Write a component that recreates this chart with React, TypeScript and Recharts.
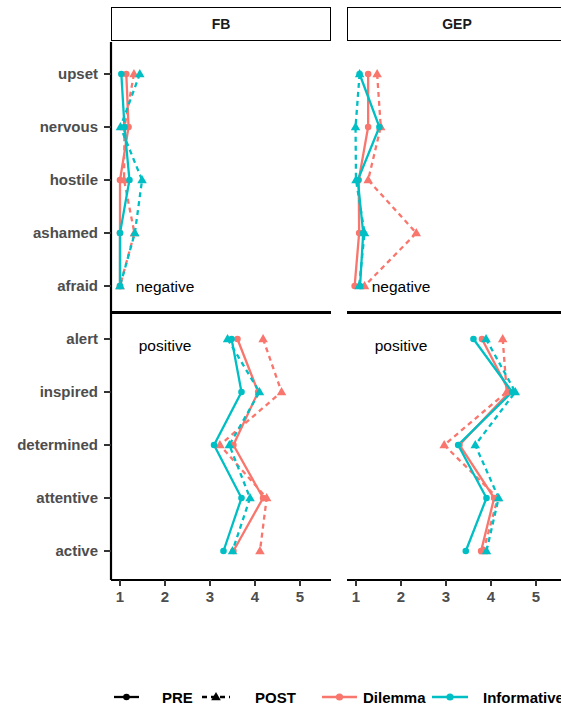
import { LineChart, Line, XAxis, YAxis, ReferenceDot } from 'recharts';

const categories = [
  'upset', 'nervous', 'hostile', 'ashamed', 'afraid',
  'alert', 'inspired', 'determined', 'attentive', 'active',
];
const xTicks = [1, 2, 3, 4, 5];

// FB panel
const fbDilemmaPre = [1.14, 1.19, 1.0, 1.0, 1.0, 3.61, 4.07, 3.52, 4.18, 3.52];
const fbDilemmaPost = [1.31, 1.1, 1.09, 1.32, 1.0, 4.18, 4.59, 3.22, 4.26, 4.11];
const fbInfoPre = [1.03, 1.1, 1.21, 1.0, 1.0, 3.48, 3.7, 3.09, 3.7, 3.3];
const fbInfoPost = [1.44, 1.01, 1.49, 1.33, 1.0, 3.39, 4.1, 3.43, 3.89, 3.5];

// GEP panel
const gepDilemmaPre = [1.27, 1.27, 1.06, 1.07, 0.97, 3.8, 4.41, 3.3, 4.07, 3.78];
const gepDilemmaPost = [1.47, 1.55, 1.27, 2.34, 1.19, 4.26, 4.35, 2.96, 4.15, 3.83];
const gepInfoPre = [1.08, 1.52, 1.04, 1.16, 1.09, 3.61, 4.47, 3.27, 3.9, 3.44];
const gepInfoPost = [1.08, 0.99, 1.0, 1.19, 1.07, 3.89, 4.54, 3.65, 4.17, 3.9];

const RED = '#F8766D';
const TEAL = '#00BFC4';
const FONT = '"Liberation Sans", Arial, Helvetica, sans-serif';
const GREY = '#4D4D4D';

const PLOT_TOP = 42;
const PLOT_BOTTOM = 580;
const AXIS_W = 111;
const PANEL_W = 220;
const PAD_TOP = 32;
const PAD_BOTTOM = 29;
const CHART_H = 622;
const X_DOMAIN: [number, number] = [0.8, 0.8 + PANEL_W / 45];

const STEP = (PLOT_BOTTOM - PLOT_TOP - PAD_TOP - PAD_BOTTOM) / (categories.length - 1);
const SEP_Y = PLOT_TOP + PAD_TOP + 4.5 * STEP;

function buildRows(dPre: number[], dPost: number[], iPre: number[], iPost: number[]) {
  return categories.map((cat, i) => {
    const neg = i < 5;
    return {
      cat,
      dPreN: neg ? dPre[i] : null,
      dPreP: neg ? null : dPre[i],
      dPostN: neg ? dPost[i] : null,
      dPostP: neg ? null : dPost[i],
      iPreN: neg ? iPre[i] : null,
      iPreP: neg ? null : iPre[i],
      iPostN: neg ? iPost[i] : null,
      iPostP: neg ? null : iPost[i],
    };
  });
}

const fbRows = buildRows(fbDilemmaPre, fbDilemmaPost, fbInfoPre, fbInfoPost);
const gepRows = buildRows(gepDilemmaPre, gepDilemmaPost, gepInfoPre, gepInfoPost);

const triangleDot = (color: string) => (props: any) => {
  const { cx, cy, index } = props;
  if (cx == null || cy == null || isNaN(cx) || isNaN(cy)) return <g key={`t-${index}`} />;
  const s = 5;
  return (
    <path
      key={`t-${index}`}
      d={`M${cx},${cy - s}L${cx + s * 0.95},${cy + s * 0.65}L${cx - s * 0.95},${cy + s * 0.65}Z`}
      fill={color}
    />
  );
};

function seriesLines() {
  const defs = [
    { key: 'dPre', color: RED, post: false },
    { key: 'dPost', color: RED, post: true },
    { key: 'iPre', color: TEAL, post: false },
    { key: 'iPost', color: TEAL, post: true },
  ];
  const out: any[] = [];
  defs.forEach((d) => {
    ['N', 'P'].forEach((part) => {
      out.push(
        <Line
          key={d.key + part}
          type="linear"
          dataKey={d.key + part}
          stroke={d.color}
          strokeWidth={2.3}
          strokeDasharray={d.post ? '5 4' : undefined}
          dot={d.post ? triangleDot(d.color) : { r: 3.3, fill: d.color, stroke: d.color, strokeWidth: 0 }}
          activeDot={false}
          connectNulls={false}
          isAnimationActive={false}
        />
      );
    });
  });
  return out;
}

function Panel({ rows, showY }: { rows: any[]; showY: boolean }) {
  const yw = showY ? AXIS_W : 0;
  return (
    <LineChart
      layout="vertical"
      width={yw + PANEL_W}
      height={CHART_H}
      data={rows}
      margin={{ top: PLOT_TOP, right: 0, bottom: 0, left: 0 }}
    >
      <XAxis
        type="number"
        domain={X_DOMAIN}
        ticks={xTicks}
        allowDataOverflow
        height={CHART_H - PLOT_BOTTOM}
        axisLine={{ stroke: '#000', strokeWidth: 2.2 }}
        tickLine={{ stroke: '#333', strokeWidth: 2 }}
        tickSize={6}
        tickMargin={5}
        tick={{ fill: GREY, fontSize: 15, fontWeight: 700, fontFamily: FONT }}
      />
      <YAxis
        type="category"
        dataKey="cat"
        hide={!showY}
        width={AXIS_W}
        padding={{ top: PAD_TOP, bottom: PAD_BOTTOM }}
        axisLine={{ stroke: '#000', strokeWidth: 2.2 }}
        tickLine={{ stroke: '#333', strokeWidth: 2 }}
        tickSize={7}
        tickMargin={6}
        interval={0}
        tick={{ fill: GREY, fontSize: 15, fontWeight: 700, fontFamily: FONT }}
      />
      {seriesLines()}
      <ReferenceDot
        x={2}
        y="afraid"
        r={0}
        stroke="none"
        fill="none"
        label={{ value: 'negative', position: 'center', fill: '#000', fontSize: 15.5, fontFamily: FONT }}
      />
      <ReferenceDot
        x={2}
        y="alert"
        r={0}
        stroke="none"
        fill="none"
        label={{ value: 'positive', position: 'center', fill: '#000', fontSize: 15.5, fontFamily: FONT, dy: 6 }}
      />
    </LineChart>
  );
}

function Strip({ left, label }: { left: number; label: string }) {
  return (
    <div
      style={{
        position: 'absolute',
        left,
        top: 7,
        width: PANEL_W,
        height: 34,
        boxSizing: 'border-box',
        border: '1.3px solid #000',
        background: '#fff',
        display: 'flex',
        alignItems: 'center',
        justifyContent: 'center',
        fontFamily: FONT,
        fontWeight: 700,
        fontSize: 14,
        color: '#1a1a1a',
      }}
    >
      {label}
    </div>
  );
}

function LegendBar() {
  const txt = { fontFamily: FONT, fontWeight: 700, fontSize: 15, fill: '#000' } as any;
  const cy = 15;
  return (
    <svg width={561} height={30} style={{ position: 'absolute', left: 0, top: 682 }}>
      <line x1={114} x2={139} y1={cy} y2={cy} stroke="#000" strokeWidth={2.3} />
      <circle cx={126.5} cy={cy} r={3.3} fill="#000" />
      <text x={162} y={cy + 5.5} {...txt}>PRE</text>
      <line x1={202} x2={230} y1={cy} y2={cy} stroke="#000" strokeWidth={2.3} strokeDasharray="5 4" />
      <path d={`M216,${cy - 5}L220.8,${cy + 3.3}L211.2,${cy + 3.3}Z`} fill="#000" />
      <text x={255} y={cy + 5.5} {...txt}>POST</text>
      <line x1={322} x2={357} y1={cy} y2={cy} stroke={RED} strokeWidth={2.3} />
      <circle cx={339.5} cy={cy} r={3.6} fill={RED} />
      <text x={363} y={cy + 5.5} {...txt}>Dilemma</text>
      <line x1={432} x2={468} y1={cy} y2={cy} stroke={TEAL} strokeWidth={2.3} />
      <circle cx={450} cy={cy} r={3.6} fill={TEAL} />
      <text x={483} y={cy + 5.5} {...txt}>Informative</text>
    </svg>
  );
}

export default function App() {
  const gepLeft = AXIS_W + PANEL_W + 16;
  return (
    <div
      style={{
        position: 'absolute',
        left: 0,
        top: 0,
        width: 561,
        height: 706,
        overflow: 'hidden',
        background: '#fff',
      }}
    >
      <Strip left={AXIS_W} label="FB" />
      <Strip left={gepLeft} label="GEP" />
      <div style={{ position: 'absolute', left: 0, top: 0 }}>
        <Panel rows={fbRows} showY />
      </div>
      <div style={{ position: 'absolute', left: gepLeft, top: 0 }}>
        <Panel rows={gepRows} showY={false} />
      </div>
      <div style={{ position: 'absolute', left: AXIS_W, top: SEP_Y - 1.1, width: PANEL_W, height: 2.2, background: '#000' }} />
      <div style={{ position: 'absolute', left: gepLeft, top: SEP_Y - 1.1, width: PANEL_W, height: 2.2, background: '#000' }} />
      <LegendBar />
    </div>
  );
}
